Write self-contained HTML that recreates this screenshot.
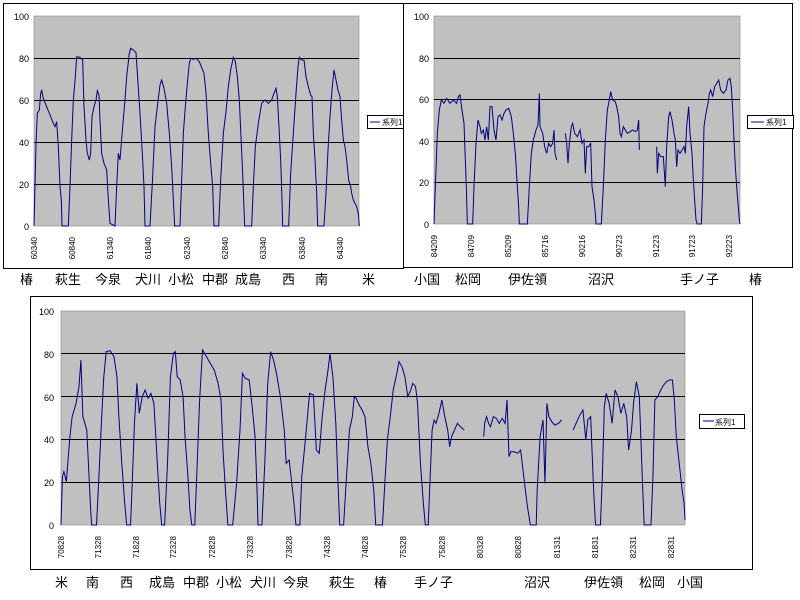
<!DOCTYPE html>
<html><head><meta charset="utf-8"><style>
body{margin:0;background:#fff;width:800px;height:600px;overflow:hidden}
svg{display:block}
text{font-family:"Liberation Sans",sans-serif}
.st{font-family:"Liberation Sans","Noto Sans CJK JP",sans-serif;font-size:13px;fill:#000}
.yl{font-size:9px;text-anchor:end}
.xl{font-size:8px;text-anchor:end}
.ln{fill:none;stroke:#000080;stroke-width:1;vector-effect:non-scaling-stroke}
.gr{stroke:#000;stroke-width:1}
</style></head><body>
<svg width="800" height="600" viewBox="0 0 800 600">
<!-- Chart 1 -->
<rect x="3.5" y="3.5" width="400" height="265" fill="#fff" stroke="#000"/>
<rect x="34" y="16" width="325" height="210" fill="#c0c0c0" stroke="#888" stroke-width="0.6"/>
<g class="gr"><line x1="34" x2="359" y1="58.5" y2="58.5"/><line x1="34" x2="359" y1="100.5" y2="100.5"/><line x1="34" x2="359" y1="142.5" y2="142.5"/><line x1="34" x2="359" y1="184.5" y2="184.5"/></g>
<g class="yl"><text x="29" y="20">100</text><text x="29" y="62">80</text><text x="29" y="104">60</text><text x="29" y="146">40</text><text x="29" y="188">20</text><text x="29" y="230">0</text></g>
<g class="xl">
<text transform="translate(37,237) rotate(-90)">60340</text><text transform="translate(75,237) rotate(-90)">60840</text><text transform="translate(113,237) rotate(-90)">61340</text><text transform="translate(151,237) rotate(-90)">61840</text><text transform="translate(190,237) rotate(-90)">62340</text><text transform="translate(228,237) rotate(-90)">62840</text><text transform="translate(266,237) rotate(-90)">63340</text><text transform="translate(305,237) rotate(-90)">63840</text><text transform="translate(343,237) rotate(-90)">64340</text></g>
<g transform="scale(0.33333)"><polyline class="ln" points="102,678 104,600 108,430 112,340 118,330 122,280 125,270 130,295 140,320 150,345 160,370 165,380 170,365 175,440 180,560 184,600 186,678 205,678 210,560 215,420 220,300 226,230 230,170 240,172 248,180 252,320 258,420 262,460 268,480 272,460 276,350 282,320 288,300 292,272 297,285 300,360 305,460 312,490 320,510 325,600 330,670 345,678 350,560 355,460 360,480 368,380 375,300 380,230 388,160 392,145 400,150 408,158 414,250 420,340 428,480 432,560 435,678 450,678 458,530 465,380 472,320 480,255 485,240 492,265 500,310 508,400 515,500 520,600 524,678 540,678 545,540 550,400 556,320 562,250 568,190 572,175 580,178 588,175 598,185 612,220 618,280 625,400 632,490 638,560 642,678 656,678 662,540 670,400 678,335 685,260 692,210 700,172 706,185 712,230 718,300 722,390 728,520 734,678 755,678 760,560 766,440 775,370 785,310 795,300 805,310 815,300 822,280 828,265 832,290 838,400 842,480 846,600 848,678 866,678 872,520 880,400 888,280 894,200 898,172 905,180 912,180 918,230 925,260 932,285 936,290 940,400 945,480 950,580 953,678 972,678 978,580 984,450 990,350 996,270 1002,210 1008,240 1014,270 1020,290 1025,360 1030,420 1035,440 1040,480 1046,540 1052,560 1055,580 1060,600 1065,610 1070,620 1075,640 1078,678"/></g>
<rect x="367.5" y="115.5" width="40" height="13" fill="#fff" stroke="#000"/>
<line x1="370" x2="380" y1="122" y2="122" stroke="#000080"/>
<text x="382" y="125" style="font-size:8px;font-family:'Liberation Sans','Noto Sans CJK JP',sans-serif">系列1</text>

<!-- Chart 2 -->
<rect x="403.5" y="3.5" width="389" height="264" fill="#fff" stroke="#000"/>
<rect x="434" y="16" width="306" height="208" fill="#c0c0c0" stroke="#888" stroke-width="0.6"/>
<g class="gr"><line x1="434" x2="740" y1="58.5" y2="58.5"/><line x1="434" x2="740" y1="99.5" y2="99.5"/><line x1="434" x2="740" y1="141.5" y2="141.5"/><line x1="434" x2="740" y1="182.5" y2="182.5"/></g>
<g class="yl"><text x="429" y="20">100</text><text x="429" y="62">80</text><text x="429" y="103">60</text><text x="429" y="145">40</text><text x="429" y="186">20</text><text x="429" y="228">0</text></g>
<g class="xl">
<text transform="translate(437,235) rotate(-90)">84209</text><text transform="translate(474,235) rotate(-90)">84709</text><text transform="translate(511,235) rotate(-90)">85209</text><text transform="translate(548,235) rotate(-90)">85716</text><text transform="translate(585,235) rotate(-90)">90216</text><text transform="translate(622,235) rotate(-90)">90723</text><text transform="translate(659,235) rotate(-90)">91223</text><text transform="translate(695,235) rotate(-90)">91723</text><text transform="translate(732,235) rotate(-90)">92223</text></g>
<g transform="translate(400,0) scale(0.33333)">
<polyline class="ln" points="102,672 106,560 112,400 118,330 124,300 132,310 140,295 150,310 160,300 170,310 175,290 180,285 186,330 192,370 196,480 199,560 202,672 218,672 222,560 228,430 234,360 240,380 244,400 250,390 255,420 260,380 265,420 270,320 276,320 282,390 288,420 294,350 300,345 306,360 312,340 318,330 326,325 334,350 340,400 346,460 352,560 356,620 358,672 382,672 388,560 394,460 400,420 408,390 414,375 418,280 420,380 428,400 434,440 440,460 446,430 452,440 458,430 462,390 465,460 470,480"/>
<polyline class="ln" points="496,400 500,430 504,490 508,430 514,380 518,370 524,400 532,410 540,390 546,430 552,420 556,520 560,440 566,440 572,430 576,560 582,600 586,640 588,672 604,672 610,560 616,420 622,330 628,300 632,275 638,300 646,305 650,320 656,350 660,400 664,410 670,380 676,390 682,400 690,395 698,390 706,395 712,390 716,360 718,450"/>
<polyline class="ln" points="770,440 772,520 776,460 782,470 790,470 796,560 800,440 806,350 810,335 816,360 822,400 826,420 830,500 834,450 840,460 846,450 852,440 856,460 860,380 866,320 870,400 876,460 880,540 884,600 888,660 892,672 904,672 908,560 912,380 918,340 924,310 928,280 932,270 938,290 944,260 950,250 956,240 962,270 970,280 978,270 984,240 990,235 994,260 998,330 1002,420 1006,500 1010,560 1014,610 1018,660 1020,672"/></g>
<rect x="747.5" y="115.5" width="46" height="13" fill="#fff" stroke="#000"/>
<line x1="751" x2="764" y1="122" y2="122" stroke="#000080"/>
<text x="766" y="125" style="font-size:8px;font-family:'Liberation Sans','Noto Sans CJK JP',sans-serif">系列1</text>

<g class="st">
<text x="20" y="284">椿</text><text x="55" y="284">萩生</text><text x="95" y="284">今泉</text><text x="135" y="284">犬川</text><text x="168" y="284">小松</text><text x="202" y="284">中郡</text><text x="235" y="284">成島</text><text x="282" y="284">西</text><text x="315" y="284">南</text><text x="362" y="284">米</text>
<text x="414" y="284">小国</text><text x="455" y="284">松岡</text><text x="508" y="284">伊佐領</text><text x="588" y="284">沼沢</text><text x="680" y="284">手ノ子</text><text x="749" y="284">椿</text>
</g>

<!-- Chart 3 -->
<rect x="30.5" y="296.5" width="722" height="273" fill="#fff" stroke="#000"/>
<rect x="61" y="311" width="624" height="214" fill="#c0c0c0" stroke="#888" stroke-width="0.6"/>
<g class="gr"><line x1="61" x2="685" y1="353.5" y2="353.5"/><line x1="61" x2="685" y1="396.5" y2="396.5"/><line x1="61" x2="685" y1="439.5" y2="439.5"/><line x1="61" x2="685" y1="482.5" y2="482.5"/></g>
<g class="yl"><text x="54" y="315">100</text><text x="54" y="358">80</text><text x="54" y="401">60</text><text x="54" y="443">40</text><text x="54" y="486">20</text><text x="54" y="529">0</text></g>
<g class="xl">
<text transform="translate(64,536) rotate(-90)">70828</text><text transform="translate(101,536) rotate(-90)">71328</text><text transform="translate(139,536) rotate(-90)">71828</text><text transform="translate(176,536) rotate(-90)">72328</text><text transform="translate(215,536) rotate(-90)">72828</text><text transform="translate(253,536) rotate(-90)">73328</text><text transform="translate(292,536) rotate(-90)">73828</text><text transform="translate(330,536) rotate(-90)">74328</text><text transform="translate(368,536) rotate(-90)">74828</text><text transform="translate(406,536) rotate(-90)">75328</text><text transform="translate(445,536) rotate(-90)">75828</text><text transform="translate(483,536) rotate(-90)">80328</text><text transform="translate(521,536) rotate(-90)">80828</text><text transform="translate(560,536) rotate(-90)">81331</text><text transform="translate(598,536) rotate(-90)">81831</text><text transform="translate(636,536) rotate(-90)">82331</text><text transform="translate(674,536) rotate(-90)">82831</text></g>
<g transform="translate(18.68,290) scale(0.4864,0.33333)">
<polyline class="ln" points="87,705 90,560 93,545 98,575 102,500 106,430 110,380 114,360 118,340 124,290 128,210 132,380 140,420 144,540 148,660 150,705 160,705 165,560 170,400 175,260 180,185 188,182 196,200 202,260 206,380 212,520 218,640 222,705 230,705 234,560 238,400 243,280 248,370 254,320 260,300 266,325 272,310 278,340 285,520 290,640 294,705 300,705 306,520 312,260 318,190 322,185 326,260 332,270 338,320 342,440 348,560 352,660 356,705 362,705 366,560 372,330 378,180 386,200 394,220 402,240 410,280 416,330 420,480 426,620 430,705 440,705 448,580 455,420 460,250 466,265 474,270 480,350 486,440 490,600 492,705 500,705 506,520 512,280 518,185 524,210 530,250 538,320 546,420 550,520 556,510 560,560 566,640 570,705 578,705 582,560 590,440 598,310 606,315 612,480 618,490 624,380 630,300 636,240 640,190 646,260 652,400 656,560 660,705 668,705 674,560 680,420 686,380 690,320 694,325 700,345 706,360 712,380 718,470 724,520 730,600 734,705 748,705 752,600 758,450 764,380 770,300 776,260 782,215 788,230 794,260 800,320 806,300 810,280 816,290 820,340 826,520 832,640 836,705 842,705 846,560 850,420 854,390 858,400 864,370 870,330 876,380 882,420 886,470 890,440 896,420 902,400 908,410 916,420"/>
<polyline class="ln" points="956,440 958,400 962,380 966,400 970,410 976,380 982,385 988,400 994,385 1000,400 1004,330 1008,500 1012,485 1018,485 1026,490 1032,480 1040,580 1046,650 1052,705 1064,705 1066,600 1072,440 1078,390 1082,580 1086,340 1090,380 1096,395 1102,405 1110,400 1116,390"/>
<polyline class="ln" points="1140,420 1146,400 1152,380 1160,360 1166,450 1170,390 1176,380 1182,600 1186,705 1196,705 1200,560 1204,350 1208,310 1214,340 1220,400 1226,300 1232,320 1238,370 1244,340 1250,380 1254,480 1260,420 1264,340 1270,275 1276,320 1282,560 1286,705 1300,705 1304,560 1308,330 1314,320 1320,300 1326,285 1332,275 1338,270 1344,270 1348,330 1352,440 1358,520 1364,600 1368,640 1370,690"/></g>
<rect x="699.5" y="414.5" width="45" height="14" fill="#fff" stroke="#000"/>
<line x1="703" x2="714" y1="421" y2="421" stroke="#000080"/>
<text x="715" y="425" style="font-size:8px;font-family:'Liberation Sans','Noto Sans CJK JP',sans-serif">系列1</text>

<g class="st">
<text x="55" y="587">米</text><text x="86" y="587">南</text><text x="120" y="587">西</text><text x="149" y="587">成島</text><text x="183" y="587">中郡</text><text x="216" y="587">小松</text><text x="250" y="587">犬川</text><text x="283" y="587">今泉</text><text x="329" y="587">萩生</text><text x="374" y="587">椿</text><text x="414" y="587">手ノ子</text><text x="524" y="587">沼沢</text><text x="584" y="587">伊佐領</text><text x="639" y="587">松岡</text><text x="677" y="587">小国</text>
</g>
</svg>
</body></html>
